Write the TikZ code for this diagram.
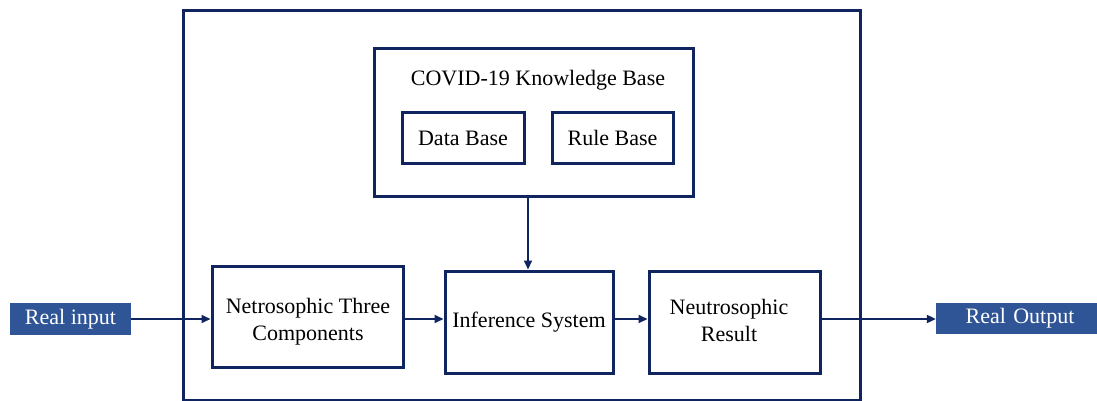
\documentclass[tikz,border=0pt]{standalone}
\usepackage{fontspec}
\setmainfont{Liberation Serif}
\usetikzlibrary{arrows.meta}
\definecolor{navy}{RGB}{16,36,96}
\definecolor{fillblue}{RGB}{47,85,151}
\tikzset{
  boxst/.style={draw=navy, line width=3pt, fill=white, inner sep=0pt, align=center, font=\fontsize{22}{27}\selectfont},
  txtst/.style={inner sep=0pt, align=center, font=\fontsize{22}{27}\selectfont},
  iost/.style={fill=fillblue, inner sep=0pt, text=white, font=\fontsize{22}{27}\selectfont},
  conn/.style={draw=navy, line width=2pt, -{Triangle[length=9pt,width=8pt]}},
}
\begin{document}
\begin{tikzpicture}[x=1pt,y=-1pt]
\useasboundingbox (0,0) rectangle (1097,401);
\fill[white] (0,0) rectangle (1097,401);
\node[boxst, fill=none, minimum width=677pt, minimum height=389pt] (frame) at (521.5,205.5) {};
\node[boxst, minimum width=319pt, minimum height=147pt] (kb) at (533.5,122.5) {};
\node[txtst] (kbt) at (538,80) {COVID-19 Knowledge Base};
\node[boxst, minimum width=122pt, minimum height=50pt] (db) at (463,138) {Data Base};
\node[boxst, minimum width=121pt, minimum height=50pt] (rb) at (612.5,138) {Rule Base};
\node[boxst, minimum width=191pt, minimum height=101pt] (net) at (307.5,316.5) {};
\node[txtst] (nett) at (308,322) {Netrosophic Three\\Components};
\node[boxst, minimum width=168pt, minimum height=102pt] (inf) at (529,322) {Inference System};
\node[boxst, minimum width=171pt, minimum height=102pt] (res) at (734.5,322) {};
\node[txtst] (rest) at (729,320) {Neutrosophic\\Result};
\node[iost, minimum width=121pt, minimum height=32pt] (in) at (70.5,319) {Real input};
\node[iost, minimum width=161pt, minimum height=31pt, text width=161pt, align=center] (out) at (1016.5,318.5) {\hspace*{7pt}Real Output};
\draw[conn] (in.east) -- (in.east -| net.west);
\draw[conn] (net.east |- in.east) -- (in.east -| inf.west);
\draw[conn] (inf.east |- in.east) -- (in.east -| res.west);
\draw[conn] (res.east |- in.east) -- (in.east -| out.west);
\draw[conn] (kb.south -| 528,0) -- (inf.north -| 528,0);
\end{tikzpicture}
\end{document}
